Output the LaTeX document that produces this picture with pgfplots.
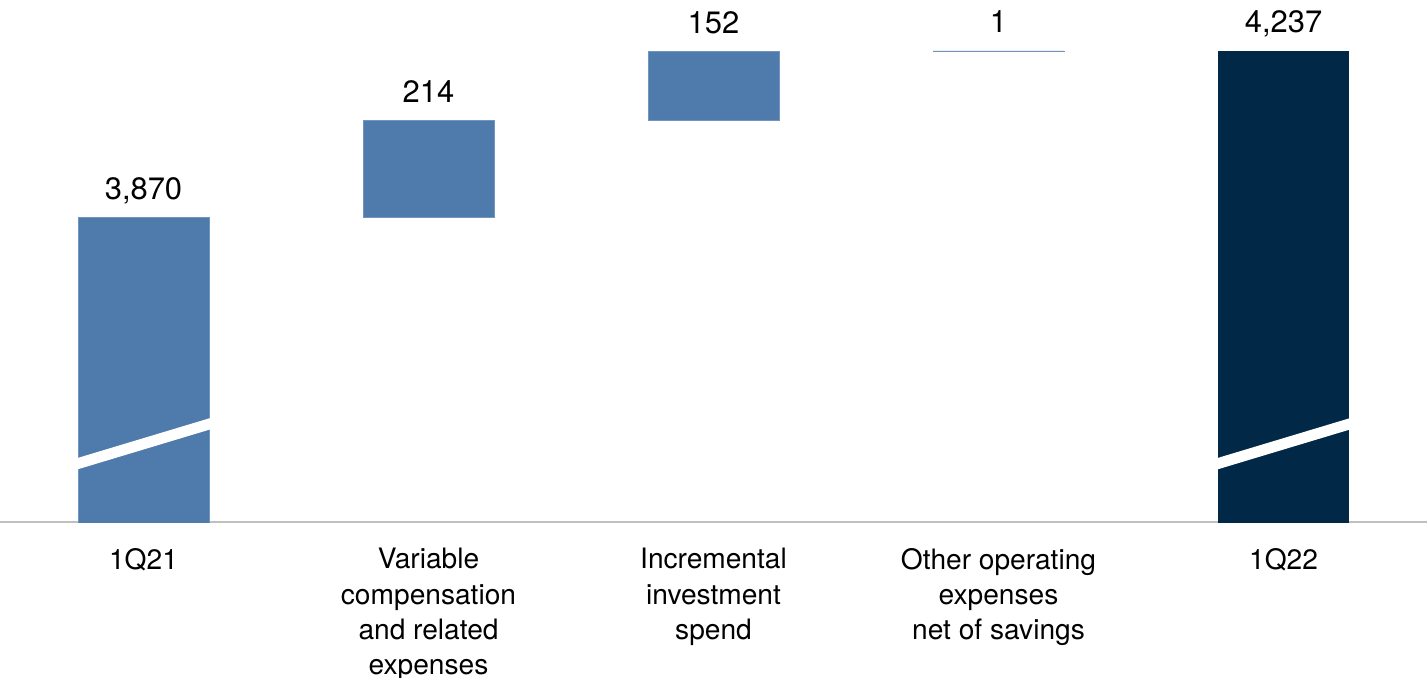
\documentclass[border=0pt]{standalone}
\usepackage{fontspec}
\setmainfont{TeX Gyre Heros}
\usepackage{pgfplots}
\pgfplotsset{compat=1.18}
\definecolor{barblue}{HTML}{4E7AAC}
\definecolor{navy}{HTML}{012846}
\definecolor{axisgray}{HTML}{BFBFBF}
\tikzset{vlab/.style={anchor=base, yshift=0.18cm, font=\fontsize{8.8}{10}\selectfont}}

\begin{document}
\begin{tikzpicture}
\begin{axis}[
  scale only axis,
  width=14.27cm, height=5.22cm,
  xmin=-0.5035, xmax=4.5035,
  ymin=3197.5, ymax=4349.5,
  ybar stacked, bar width=1.31cm,
  axis x line=bottom, hide y axis,
  x axis line style={-},
  axis line style={draw=axisgray, line width=0.6pt},
  xtick={0,1,2,3,4},
  xticklabels={1Q21,
    {Variable\\compensation\\and related\\expenses},
    {Incremental\\investment\\spend},
    {Other operating\\expenses\\net of savings},
    1Q22},
  major tick length=0pt,
  xticklabel style={align=center, anchor=north, yshift=-0.14cm,
    font=\fontsize{8}{10}\selectfont},
]
% invisible base of the floating bars
\addplot[draw=none, fill=none] coordinates {(0,0) (1,3870) (2,4084) (3,4236) (4,0)};
% start value and increments
\addplot[fill=barblue, draw=barblue!80!white, line width=0.25pt] coordinates {(0,3870) (1,214) (2,152) (3,1) (4,0)};
% end value
\addplot[fill=navy, draw=none] coordinates {(0,0) (1,0) (2,0) (3,0) (4,4237)};

% ends of the axis break marks
\coordinate (a1) at (axis cs:-0.26,3320.8);
\coordinate (a2) at (axis cs:0.26,3419.3);
\coordinate (b1) at (axis cs:3.74,3320.8);
\coordinate (b2) at (axis cs:4.26,3419.3);

\node[vlab] at (axis cs:0,3870) {3,870};
\node[vlab] at (axis cs:1,4084) {214};
\node[vlab] at (axis cs:2,4236) {152};
\node[vlab] at (axis cs:3,4237) {1};
\node[vlab] at (axis cs:4,4237) {4,237};
\end{axis}
\draw[white, line width=3.1pt] (a1) -- (a2);
\draw[white, line width=3.1pt] (b1) -- (b2);
\pgfresetboundingbox
\path[use as bounding box] (0,-1.55) rectangle (14.27,5.22);
\end{tikzpicture}
\end{document}
